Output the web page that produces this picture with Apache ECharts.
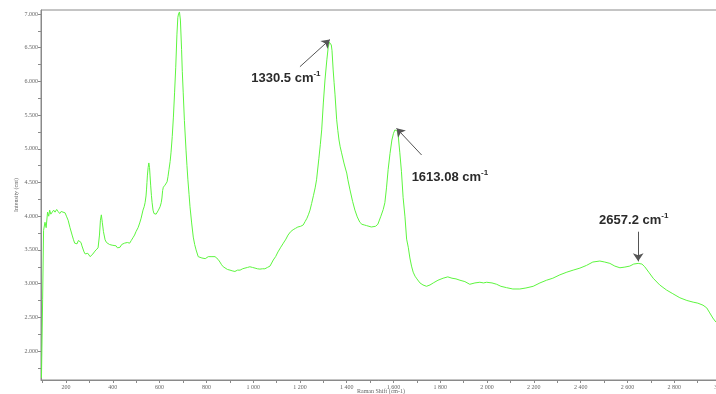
<!DOCTYPE html>
<html>
<head>
<meta charset="utf-8">
<script src="https://cdn.jsdelivr.net/npm/echarts@6/dist/echarts.min.js"></script>
<style>html,body{margin:0;padding:0;background:#fff}#c{width:716px;height:394px}</style>
</head>
<body>
<div id="c"></div>
<script>
// Raman shift (cm-1)
const ramanShift = [95,100,104,110,115,121,126,130,135,140,147,153,160,166,173,179,187,196,203,209,217,226,232,237,242,247,253,259,264,268,277,282,287,293,298,303,307,315,321,328,337,343,347,351,355,360,367,373,379,386,392,397,405,414,420,426,431,438,444,450,456,462,472,479,486,493,499,508,515,521,529,534,538,542,544,546,548,551,554,557,559,562,565,568,572,576,579,585,589,595,602,607,610,613,616,620,623,628,632,636,640,645,649,654,659,664,669,674,678,681,685,689,694,697,701,706,713,717,721,726,730,737,744,750,756,765,772,781,788,795,801,808,815,820,828,837,844,850,858,865,872,879,890,901,910,922,933,944,955,965,976,986,997,1008,1018,1029,1040,1050,1061,1072,1086,1096,1106,1118,1129,1140,1149,1160,1171,1181,1191,1203,1214,1222,1230,1237,1243,1250,1258,1265,1271,1276,1281,1287,1293,1300,1307,1315,1321,1326,1331,1334,1337,1342,1346,1350,1357,1362,1367,1372,1378,1388,1395,1400,1405,1414,1425,1435,1445,1456,1465,1475,1485,1495,1505,1513,1523,1533,1546,1556,1563,1570,1577,1585,1593,1600,1606,1612,1617,1621,1627,1634,1641,1649,1656,1663,1670,1677,1684,1692,1700,1713,1726,1741,1756,1770,1790,1812,1832,1850,1867,1884,1905,1926,1948,1969,1985,1998,2021,2041,2059,2083,2110,2140,2166,2197,2226,2254,2281,2311,2341,2368,2397,2425,2452,2482,2503,2525,2546,2568,2589,2610,2627,2646,2662,2674,2691,2710,2738,2767,2794,2824,2854,2881,2901,2923,2939,2952,2965,2978,2995];
// Intensity (cnt)
const intensity = [1600,2760,3790,3910,3830,4060,4000,4090,4030,4050,4090,4060,4100,4070,4040,4070,4090,4050,3990,3940,3830,3720,3650,3600,3620,3590,3640,3650,3610,3560,3470,3440,3420,3450,3440,3400,3410,3440,3470,3500,3530,3720,3940,4020,3910,3770,3650,3610,3600,3580,3600,3570,3550,3560,3530,3550,3540,3580,3570,3600,3590,3610,3600,3640,3680,3720,3770,3830,3900,3970,4090,4140,4200,4300,4390,4500,4610,4720,4790,4720,4610,4450,4310,4200,4090,4040,4020,4030,4050,4090,4140,4200,4270,4380,4430,4440,4460,4480,4510,4590,4690,4810,4950,5180,5470,5830,6210,6690,6950,7000,7030,6910,6470,6150,5830,5420,4980,4750,4540,4320,4140,3900,3690,3580,3500,3400,3390,3380,3390,3370,3380,3400,3390,3400,3390,3400,3380,3360,3320,3280,3250,3230,3210,3200,3190,3180,3200,3200,3220,3230,3240,3250,3240,3230,3220,3215,3220,3220,3240,3260,3350,3400,3470,3540,3600,3660,3720,3770,3800,3820,3840,3850,3870,3920,3970,4030,4090,4190,4310,4420,4540,4700,4860,5060,5280,5680,6020,6320,6510,6580,6600,6540,6460,6170,5980,5800,5430,5270,5130,5030,4940,4790,4700,4640,4540,4390,4220,4090,3990,3910,3880,3870,3860,3850,3840,3840,3850,3880,4000,4100,4200,4420,4690,4930,5130,5230,5280,5300,5260,5160,4940,4660,4280,3990,3660,3540,3380,3260,3170,3110,3070,3010,2980,2960,2980,3010,3050,3080,3100,3080,3070,3050,3030,2990,3010,3020,3010,3020,3010,2990,2960,2940,2920,2920,2935,2960,3010,3050,3080,3130,3170,3200,3230,3270,3320,3335,3320,3300,3260,3235,3245,3260,3290,3300,3290,3250,3170,3080,2980,2905,2850,2790,2750,2725,2710,2680,2640,2565,2490,2430,2380];

const xLabelValues = [200,400,600,800,1000,1200,1400,1600,1800,2000,2200,2400,2600,2800,3000];
const xTickValues = [100,200,300,400,500,600,700,800,900,1000,1100,1200,1300,1400,1500,1600,1700,1800,1900,2000,2100,2200,2300,2400,2500,2600,2700,2800,2900,3000];
const yLabelValues = [2000,2500,3000,3500,4000,4500,5000,5500,6000,6500,7000];
const yTickValues = [1750,2000,2250,2500,2750,3000,3250,3500,3750,4000,4250,4500,4750,5000,5250,5500,5750,6000,6250,6500,6750,7000];

// annotations
const peakLabels = ['1330.5 cm', '1613.08 cm', '2657.2 cm'];
const arrowTails = [[1200, 6218], [1720, 4908], [2646, 3770]];
const arrowTips = [[1328, 6620], [1613, 5304], [2646, 3330]];
const labelPos = [[1140, 6050], [1841, 4582], [2627, 3944]];

const chart = echarts.init(document.getElementById('c'), null, {renderer: 'canvas'});
const axisColor = '#8a8a8a';
const tickFont = {fontFamily: 'Liberation Serif', fontSize: 6, color: '#666'};

const seriesData = ramanShift.map((x, i) => [x, intensity[i]]);

chart.setOption({
  animation: false,
  backgroundColor: '#fff',
  grid: {left: 41, right: -5, top: 10, bottom: 14, show: true, borderColor: axisColor, borderWidth: 1,
         containLabel: false, outerBoundsMode: 'none'},
  xAxis: {
    type: 'value', min: 93, max: 3000,
    name: 'Raman Shift (cm-1)', nameLocation: 'middle', nameGap: 8, nameMoveOverlap: false,
    nameTextStyle: {fontFamily: 'Liberation Serif', fontSize: 6, color: '#666', verticalAlign: 'top'},
    axisLine: {show: true, lineStyle: {color: axisColor}},
    axisTick: {show: true, length: 3, customValues: xTickValues, lineStyle: {color: axisColor}},
    axisLabel: Object.assign({customValues: xLabelValues, margin: 4,
      formatter: v => v >= 1000 ? Math.floor(v / 1000) + ' ' + String(v % 1000).padStart(3, '0') : String(v)}, tickFont),
    splitLine: {show: false}
  },
  yAxis: {
    type: 'value', min: 1570, max: 7059,
    name: 'Intensity (cnt)', nameLocation: 'middle', nameGap: 22, nameMoveOverlap: false,
    nameTextStyle: {fontFamily: 'Liberation Serif', fontSize: 6, color: '#666'},
    axisLine: {show: true, lineStyle: {color: axisColor}},
    axisTick: {show: true, length: 3, customValues: yTickValues, lineStyle: {color: axisColor}},
    axisLabel: Object.assign({customValues: yLabelValues, margin: 3,
      formatter: v => Math.floor(v / 1000) + '.' + String(v % 1000).padStart(3, '0')}, tickFont),
    splitLine: {show: false}
  },
  series: [{
    type: 'line',
    data: seriesData,
    showSymbol: false,
    lineStyle: {color: '#5DF53F', width: 1},
    itemStyle: {color: '#5DF53F'},
    markLine: {
      silent: true,
      symbol: ['none', 'arrow'],
      symbolSize: 8,
      label: {show: false},
      lineStyle: {color: '#555', width: 1, type: 'solid'},
      emphasis: {disabled: true},
      data: arrowTails.map((t, i) => [{coord: t}, {coord: arrowTips[i]}])
    },
    markPoint: {
      silent: true,
      symbol: 'circle',
      symbolSize: 0,
      data: labelPos.map((p, i) => ({
        coord: p,
        label: {
          show: true, position: 'inside',
          formatter: '{b|' + peakLabels[i] + '}{s|-1}',
          rich: {
            b: {fontFamily: 'Liberation Sans', fontSize: 13, fontWeight: 'bold', color: '#2b2b2b', lineHeight: 16},
            s: {fontFamily: 'Liberation Sans', fontSize: 8, fontWeight: 'bold', color: '#2b2b2b', lineHeight: 8, verticalAlign: 'top'}
          }
        }
      }))
    }
  }]
});
</script>
</body>
</html>
